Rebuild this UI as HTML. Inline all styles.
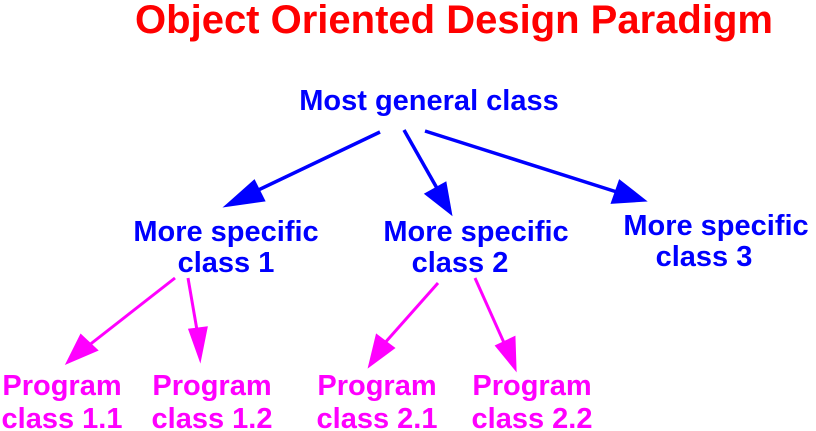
<!DOCTYPE html>
<html><head><style>
body{margin:0;background:#fff;}
svg{display:block}
text{font-family:"Liberation Sans",sans-serif;font-weight:bold;text-anchor:middle}
</style></head><body>
<svg width="816" height="431" viewBox="0 0 816 431">
<text x="454" y="33" font-size="40" fill="#ff0000">Object Oriented Design Paradigm</text>
<text x="429" y="110" font-size="29" fill="#0000ff">Most general class</text>
<g stroke="#0000ff" stroke-width="3.5" fill="#0000ff">
<line x1="380" y1="132" x2="250" y2="194"/><polygon points="228,205 254,182 263,200"/>
<line x1="404" y1="130" x2="438" y2="190"/><polygon points="450,212 427,194 445,184"/>
<line x1="425" y1="131" x2="620" y2="193"/><polygon points="643,200 613,202 620,182"/>
</g>
<g stroke="#ff00ff" stroke-width="3" fill="#ff00ff">
<line x1="175" y1="278" x2="88" y2="346"/><polygon points="68,362 81,336 96,350"/>
<line x1="188" y1="278" x2="198" y2="336"/><polygon points="200,358 190,330 206,328"/>
<line x1="438" y1="283" x2="383" y2="345"/><polygon points="370,365 377,336 393,348"/>
<line x1="475" y1="278" x2="505" y2="345"/><polygon points="515,368 497,346 514,338"/>
</g>
<g font-size="29" fill="#0000ff">
<text x="226" y="241">More specific</text><text x="226" y="272">class 1</text>
<text x="476" y="241">More specific</text><text x="460" y="272">class 2</text>
<text x="716" y="235">More specific</text><text x="704" y="266">class 3</text>
</g>
<g font-size="29" fill="#ff00ff">
<text x="62" y="395">Program</text><text x="62" y="428">class 1.1</text>
<text x="212" y="395">Program</text><text x="212" y="428">class 1.2</text>
<text x="377" y="395">Program</text><text x="377" y="428">class 2.1</text>
<text x="532" y="395">Program</text><text x="532" y="428">class 2.2</text>
</g>
</svg>
</body></html>
